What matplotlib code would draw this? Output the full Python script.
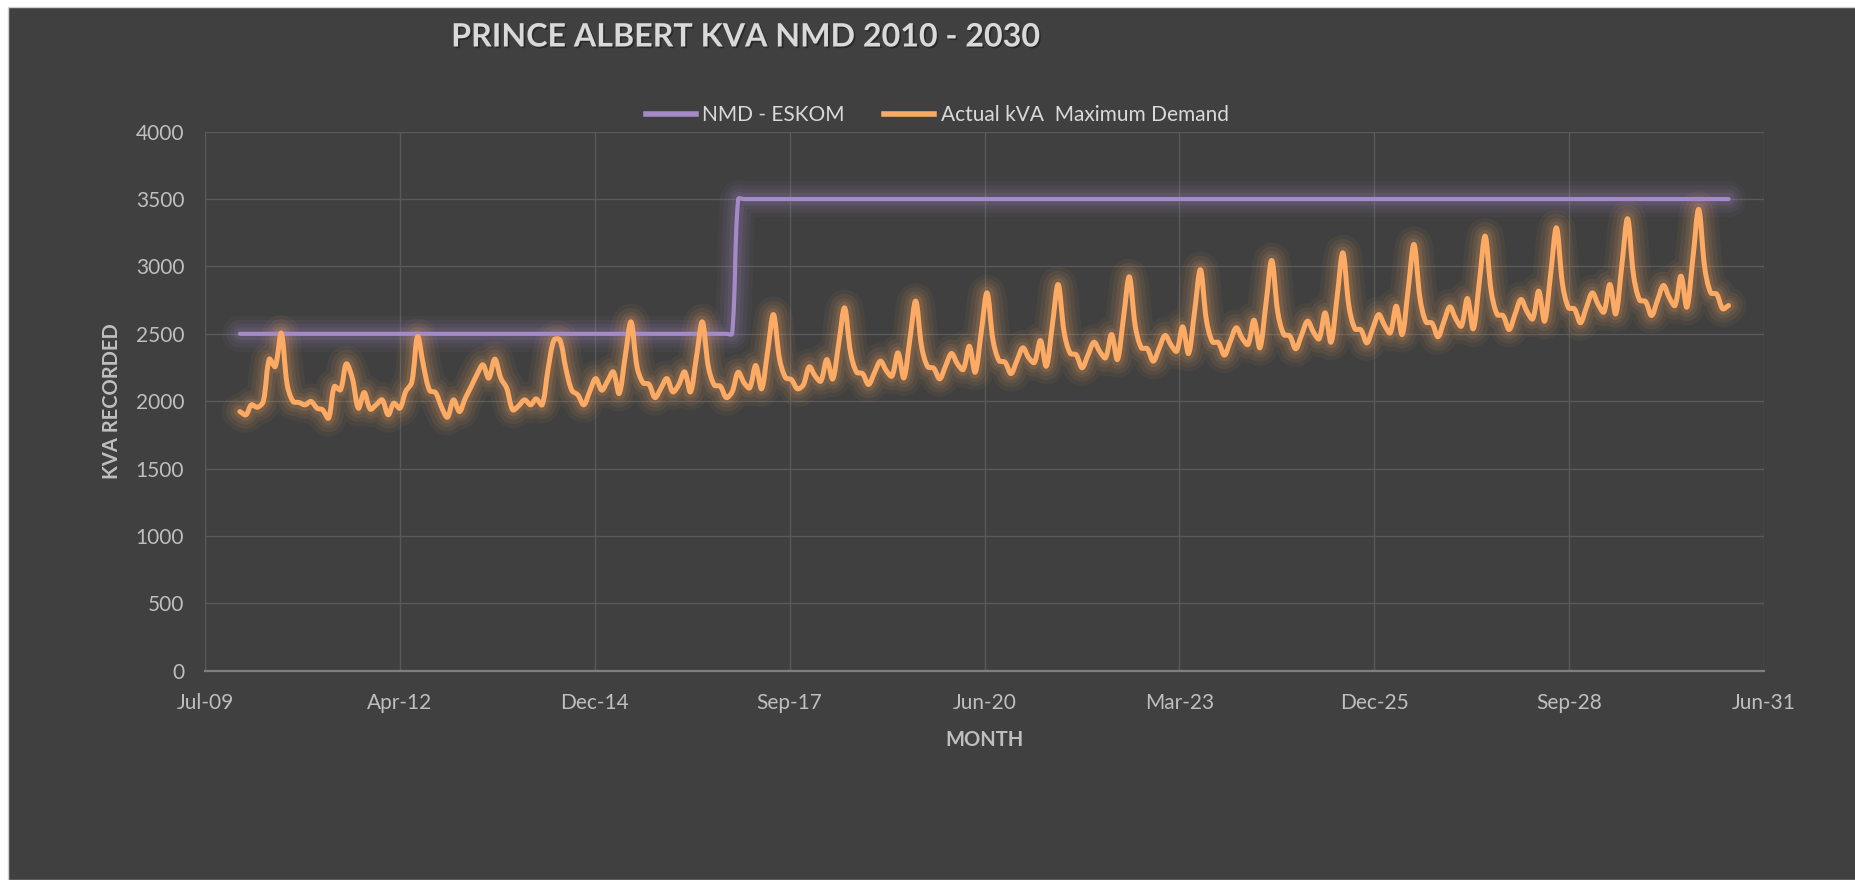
import numpy as np
import pandas as pd
import matplotlib
matplotlib.use("Agg")
import matplotlib.pyplot as plt
import matplotlib.dates as mdates
import matplotlib.patheffects as pe
from matplotlib.path import Path
from matplotlib.patches import PathPatch, Rectangle
from matplotlib.lines import Line2D

# monthly readings, Jan 2010 .. Dec 2030
months = pd.date_range("2010-01-01", "2030-12-01", freq="MS")

actual_kva = [
    1923, 1899, 1973, 1955, 1998, 2312, 2257, 2505, 2121, 1998, 1990, 1973,  # 2010
    1998, 1948, 1936, 1874, 2109, 2084, 2277, 2171, 1948, 2064, 1941, 1973,  # 2011
    2010, 1899, 1985, 1948, 2072, 2140, 2480, 2257, 2079, 2064, 1955, 1881,  # 2012
    2010, 1923, 2017, 2106, 2196, 2270, 2171, 2312, 2171, 2097, 1936, 1965,  # 2013
    2010, 1973, 2017, 1973, 2233, 2455, 2455, 2240, 2079, 2047, 1973, 2072,  # 2014
    2168, 2082, 2144, 2218, 2057, 2329, 2589, 2255, 2136, 2126, 2027, 2094,  # 2015
    2168, 2069, 2119, 2218, 2069, 2329, 2589, 2255, 2119, 2111, 2027, 2069,  # 2016
    2215, 2135, 2099, 2265, 2092, 2368, 2643, 2315, 2175, 2160, 2092, 2120,  # 2017
    2255, 2185, 2149, 2309, 2165, 2429, 2693, 2358, 2215, 2205, 2124, 2210,  # 2018
    2297, 2225, 2186, 2359, 2173, 2458, 2743, 2400, 2255, 2245, 2166, 2260,  # 2019
    2354, 2275, 2235, 2408, 2215, 2510, 2804, 2450, 2300, 2290, 2205, 2300,  # 2020
    2396, 2320, 2287, 2450, 2260, 2563, 2866, 2508, 2355, 2345, 2248, 2343,  # 2021
    2438, 2365, 2322, 2495, 2309, 2616, 2923, 2554, 2396, 2390, 2297, 2392,  # 2022
    2488, 2415, 2371, 2552, 2354, 2665, 2976, 2600, 2440, 2435, 2342, 2443,  # 2023
    2545, 2465, 2421, 2601, 2396, 2720, 3044, 2660, 2495, 2485, 2389, 2491,  # 2024
    2594, 2510, 2463, 2656, 2438, 2769, 3101, 2706, 2537, 2530, 2433, 2538,  # 2025
    2643, 2560, 2507, 2705, 2495, 2829, 3163, 2760, 2587, 2580, 2478, 2589,  # 2026
    2700, 2610, 2557, 2762, 2537, 2881, 3225, 2818, 2643, 2635, 2532, 2643,  # 2027
    2755, 2665, 2611, 2817, 2594, 2941, 3287, 2871, 2693, 2685, 2582, 2693,  # 2028
    2804, 2715, 2661, 2866, 2648, 3001, 3354, 2931, 2750, 2740, 2636, 2747,  # 2029
    2859, 2765, 2710, 2928, 2698, 3060, 3423, 2990, 2804, 2795, 2686, 2710,  # 2030
]

# notified maximum demand: 2500 up to Dec 2016, 3500 from Jan 2017
nmd_kva = [2500] * 84 + [3500] * 168

x_ticks = pd.date_range("2009-07-06", periods=9, freq="1000D")
y_ticks = [0, 500, 1000, 1500, 2000, 2500, 3000, 3500, 4000]

BG = "#404040"
GRID = "#595959"
TXT = "#bfbfbf"
ORANGE = "#fcaa64"
PURPLE = "#a48ac6"


def smooth_path(ax, xs, ys):
    # excel style smoothed line: bezier segments built in screen space
    pts = ax.transData.transform(np.column_stack([xs, ys]))
    n = len(pts)
    verts = [pts[0]]
    codes = [Path.MOVETO]
    for i in range(n - 1):
        p0 = pts[max(i - 1, 0)]
        p1 = pts[i]
        p2 = pts[i + 1]
        p3 = pts[min(i + 2, n - 1)]
        d01 = np.hypot(*(p1 - p0))
        d12 = np.hypot(*(p2 - p1))
        d23 = np.hypot(*(p3 - p2))
        w1 = d12 / (d01 + d12) if d01 + d12 > 0 else 0.5
        w2 = d12 / (d12 + d23) if d12 + d23 > 0 else 0.5
        c1 = p1 + (p2 - p0) * w1 / 3
        c2 = p2 - (p3 - p1) * w2 / 3
        verts += [c1, c2, p2]
        codes += [Path.CURVE4] * 3
    verts = ax.transData.inverted().transform(np.array(verts))
    return Path(verts, codes)


def glow_line(ax, path, color, lw, z):
    for w, a in [(26, 0.05), (20, 0.07), (14, 0.09), (9, 0.12)]:
        ax.add_patch(PathPatch(path, fill=False, edgecolor=color, lw=w, alpha=a,
                               capstyle="round", joinstyle="round", zorder=z))
    ax.add_patch(PathPatch(path, fill=False, edgecolor=color, lw=lw,
                           capstyle="round", joinstyle="round", zorder=z + 2))


plt.rcParams["font.family"] = ["Lato", "DejaVu Sans"]

fig = plt.figure(figsize=(18.56, 8.8), dpi=100)
fig.patch.set_facecolor("white")
fig.add_artist(Rectangle((8 / 1856, 0), 1 - 8 / 1856, 1 - 7 / 880, transform=fig.transFigure,
                         facecolor=BG, edgecolor="#d0d0d0", lw=1, zorder=-10))

ax = fig.add_axes([205 / 1856, 1 - 670.7 / 880, 1559 / 1856, 539 / 880])
ax.set_facecolor(BG)
ax.set_xlim(x_ticks[0], x_ticks[-1])
ax.set_ylim(0, 4000)
ax.set_xticks(x_ticks)
ax.set_yticks(y_ticks)
ax.xaxis.set_major_formatter(mdates.DateFormatter("%b-%y"))
ax.grid(True, color=GRID, lw=1.0)
ax.set_axisbelow(True)
for side in ["top", "right"]:
    ax.spines[side].set_visible(False)
ax.spines["left"].set_color(GRID)
ax.spines["bottom"].set_color("#7f7f7f")
ax.spines["bottom"].set_linewidth(1.6)
ax.tick_params(axis="both", length=0, labelsize=15, colors=TXT)
ax.tick_params(axis="x", pad=16)
ax.tick_params(axis="y", pad=15)

ax.set_xlabel("MONTH", fontsize=14.5, fontweight="bold", color=TXT)
ax.set_ylabel("KVA RECORDED", fontsize=14.5, fontweight="bold", color=TXT)
ax.xaxis.set_label_coords(0.5, -0.11)
ax.yaxis.set_label_coords(-0.053, 0.5)

xs = mdates.date2num(months)
nmd_path = smooth_path(ax, xs, nmd_kva)
act_path = smooth_path(ax, xs, actual_kva)
glow_line(ax, nmd_path, PURPLE, 3.0, 2)
glow_line(ax, act_path, ORANGE, 3.6, 3)

handles = [Line2D([], [], color=PURPLE, lw=4), Line2D([], [], color=ORANGE, lw=4)]
leg = fig.legend(handles, ["NMD - ESKOM", "Actual kVA  Maximum Demand"], loc="center",
                 bbox_to_anchor=(0.505, 1 - 115 / 880), ncol=2, frameon=False, fontsize=15,
                 handlelength=2.4, handletextpad=0.3, columnspacing=1.9)
for t in leg.get_texts():
    t.set_color("#d9d9d9")

fig.text(746 / 1856, 1 - 37 / 880, "PRINCE ALBERT KVA NMD 2010 - 2030", ha="center", va="center",
         fontsize=23.2, fontweight="bold", color="#d9d9d9",
         path_effects=[pe.withSimplePatchShadow(offset=(1.2, -1.2), shadow_rgbFace="black", alpha=0.35)])

fig.savefig("out.png", dpi=100, facecolor=fig.get_facecolor())
